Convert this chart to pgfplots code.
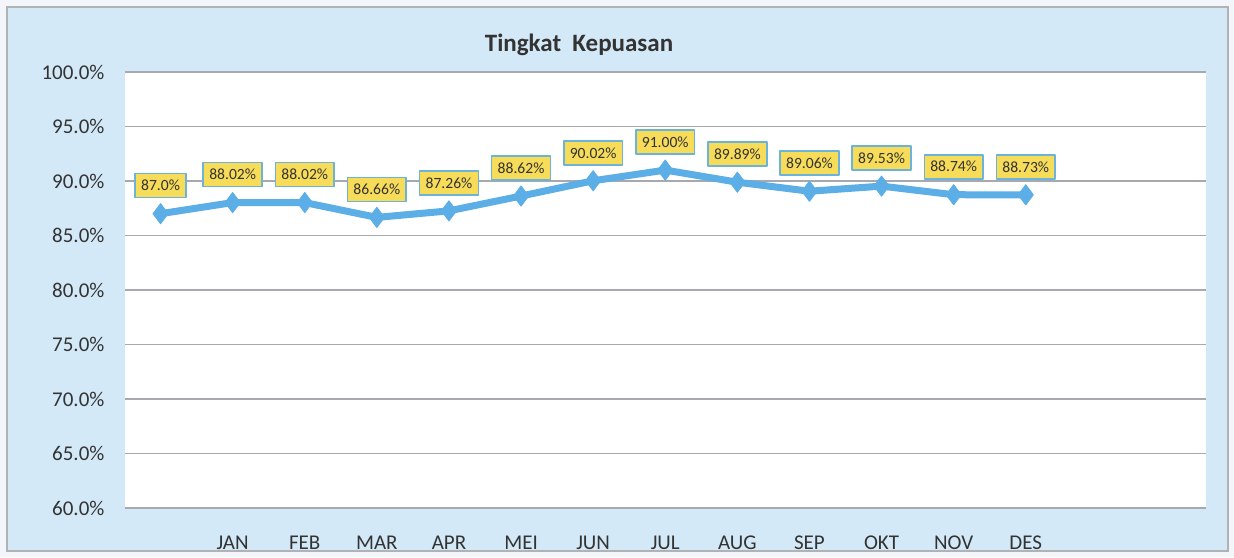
\documentclass[border=0pt]{standalone}
\usepackage{pgfplots}
\pgfplotsset{compat=1.18}
\usepackage{pgfplotstable}
\usepackage{fontspec}
\setmainfont{Carlito}
\definecolor{bgblue}{HTML}{D4E9F7}
\definecolor{pagebg}{HTML}{F2F6FA}
\definecolor{lineblue}{HTML}{5BAEE6}
\definecolor{lblyellow}{HTML}{F7DC5A}
\definecolor{lblborder}{HTML}{6BB3D9}
\definecolor{txt}{HTML}{333333}
\definecolor{gridgray}{HTML}{A8A8B0}
\pgfplotstableread{
x y lbl
0 87.00 87.0\%
1 88.02 88.02\%
2 88.02 88.02\%
3 86.66 86.66\%
4 87.26 87.26\%
5 88.62 88.62\%
6 90.02 90.02\%
7 91.00 91.00\%
8 89.89 89.89\%
9 89.06 89.06\%
10 89.53 89.53\%
11 88.74 88.74\%
12 88.73 88.73\%
}\datatable
\begin{document}
\begin{tikzpicture}
\fill[pagebg] (0,0) rectangle (617pt,278.5pt);
\filldraw[fill=bgblue, draw=gray!60, line width=0.6pt] (3.5pt,3pt) rectangle (614pt,275pt);
\fill[white] (62.25pt,24.5pt) rectangle (603pt,242.5pt);
\node[font=\fontsize{12.5}{14}\selectfont\bfseries, text=txt] at (289.5pt,256pt) {Tingkat\ \ Kepuasan};
\begin{axis}[
  at={(62.25pt,24.5pt)}, anchor=south west,
  scale only axis, width=540.75pt, height=218pt,
  xmin=-0.5, xmax=14.5, ymin=60, ymax=100,
  xtick={0,...,12},
  xticklabels={,JAN,FEB,MAR,APR,MEI,JUN,JUL,AUG,SEP,OKT,NOV,DES},
  ytick={60,65,...,100},
  yticklabel={\pgfmathprintnumber[fixed,fixed zerofill,precision=1]{\tick}\%},
  /pgf/number format/assume math mode=true,
  major tick length=0pt,
  axis line style={draw=none},
  ymajorgrids, grid style={gridgray, line width=0.6pt},
  tick label style={font=\fontsize{10.5}{12}\selectfont, text=txt},
  yticklabel style={xshift=-6.5pt},
  xticklabel style={yshift=-10.5pt},
  clip=false,
]
\addplot[lineblue, line width=3.5pt, line join=round,
  mark=diamond*, mark size=5pt, mark options={fill=lineblue, draw=lineblue, line width=0.5pt},
  nodes near coords, point meta=explicit symbolic,
  every node near coord/.append style={anchor=center, yshift=14pt,
    fill=lblyellow, draw=lblborder, line width=0.8pt, text=txt,
    font=\fontsize{7.8}{9}\selectfont, inner xsep=3pt, inner ysep=0pt,
    minimum height=12pt}
] table[x=x, y=y, meta=lbl] {\datatable};
\end{axis}
\end{tikzpicture}
\end{document}
